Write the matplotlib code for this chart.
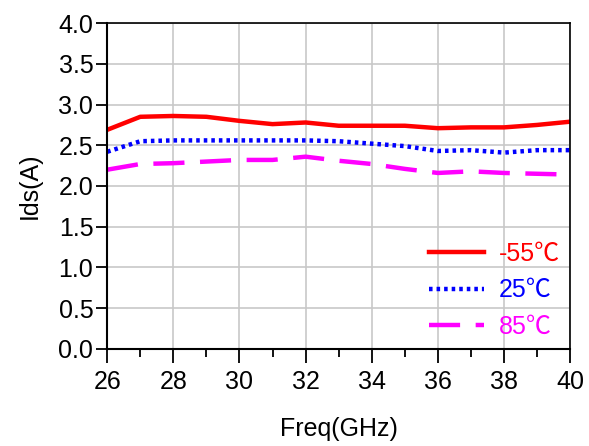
"""Ids vs frequency at three temperatures."""

import matplotlib
matplotlib.use('Agg')
import matplotlib.pyplot as plt
from matplotlib.ticker import MultipleLocator

plt.rcParams['font.family'] = ['Liberation Sans', 'Noto Sans CJK SC', 'DejaVu Sans']

freq = [26, 27, 28, 29, 30, 31, 32, 33, 34, 35, 36, 37, 38, 39, 40]
ids_m55 = [2.69, 2.85, 2.86, 2.85, 2.80, 2.76, 2.78, 2.74, 2.74, 2.74, 2.71, 2.72, 2.72, 2.75, 2.79]
ids_25 = [2.42, 2.55, 2.56, 2.56, 2.56, 2.56, 2.56, 2.55, 2.52, 2.49, 2.43, 2.44, 2.41, 2.44, 2.44]
ids_85 = [2.20, 2.27, 2.28, 2.30, 2.32, 2.32, 2.36, 2.31, 2.27, 2.21, 2.16, 2.18, 2.16, 2.15, 2.14]
labels = ['-55℃', '25℃', '85℃']
colours = ['#ff0000', '#0000ff', '#ff00ff']

fig = plt.figure(figsize=(5.89, 4.46), dpi=100)
ax = fig.add_axes([0.182, 0.218, 0.786, 0.730])

ax.plot(freq, ids_m55, color=colours[0], lw=3.2, ls='-', label=labels[0])
ax.plot(freq, ids_25, color=colours[1], lw=3.2, ls=(0, (0.8, 0.9)), label=labels[1])
ax.plot(freq, ids_85, color=colours[2], lw=3.2, ls=(0, (7, 3.5)), label=labels[2])

ax.set_xlim(26, 40)
ax.set_ylim(0, 4)
ax.xaxis.set_major_locator(MultipleLocator(2))
ax.xaxis.set_minor_locator(MultipleLocator(1))
ax.yaxis.set_major_locator(MultipleLocator(0.5))
ax.yaxis.set_major_formatter('{x:.1f}')
ax.grid(True, which='major', color='#c8c8c8', lw=1.2)
ax.set_axisbelow(True)

ax.tick_params(axis='both', which='major', direction='out', labelsize=18,
               width=1.3, pad=2)
ax.tick_params(axis='x', which='major', length=10, pad=5)
ax.tick_params(axis='x', which='minor', direction='out', length=6, width=1.3)
ax.tick_params(axis='y', which='major', length=8)
for side in ['left', 'bottom']:
    ax.spines[side].set_linewidth(1.5)
for side in ['top', 'right']:
    ax.spines[side].set_linewidth(1.2)

ax.set_xlabel('Freq(GHz)', fontsize=18, labelpad=17)
ax.set_ylabel('Ids(A)', fontsize=18, labelpad=12)

leg = ax.legend(loc='lower right', frameon=False, fontsize=18,
                handlelength=2.2, handletextpad=0.6, labelspacing=0.5,
                borderpad=0.1, borderaxespad=0.3, labelcolor='linecolor')

fig.savefig('out.png', dpi=100)
